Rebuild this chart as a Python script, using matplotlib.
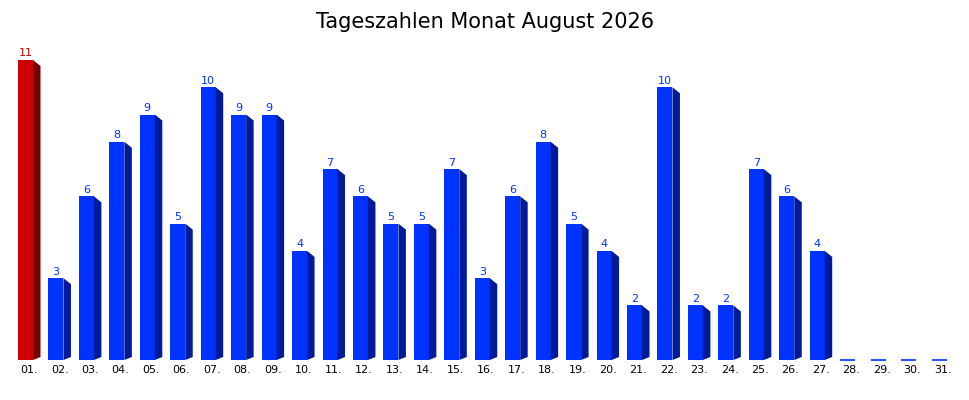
import matplotlib
matplotlib.use("Agg")
import matplotlib.pyplot as plt
from matplotlib.patches import Polygon, Rectangle

days = ["01.", "02.", "03.", "04.", "05.", "06.", "07.", "08.", "09.", "10.",
        "11.", "12.", "13.", "14.", "15.", "16.", "17.", "18.", "19.", "20.",
        "21.", "22.", "23.", "24.", "25.", "26.", "27.", "28.", "29.", "30.", "31."]
values = [11, 3, 6, 8, 9, 5, 10, 9, 9, 4, 7, 6, 5, 5, 7, 3, 6, 8, 5, 4,
          2, 10, 2, 2, 7, 6, 4, 0, 0, 0, 0]
title = "Tageszahlen Monat August 2026"

W, H = 970, 400
fig = plt.figure(figsize=(W / 100, H / 100), dpi=100)
ax = fig.add_axes([0, 0, 1, 1])
ax.set_axis_off()

pitch = 30.45    # px per bar
x0 = 18          # px of first bar left edge
unit = 300 / 11  # px per value unit
y0 = 360         # px of baseline
ax.set_xlim(-x0 / pitch, (W - x0) / pitch)
ax.set_ylim(-(H - y0) / unit, y0 / unit)

fw = 15 / pitch      # front width
sw = 7.5 / pitch     # side width
sd = 6 / unit        # side depth

vmax = max(values)
for i, v in enumerate(values):
    if v == vmax:
        front, side, tc = "#cc0000", "#770000", "#cc0000"
    else:
        front, side, tc = "#0033ff", "#001a99", "#0033ff"
    if v > 0:
        ax.add_patch(Rectangle((i, 0), fw, v, facecolor=front, edgecolor="none"))
        ax.add_patch(Polygon([(i + fw, v), (i + fw + sw, v - sd),
                              (i + fw + sw, 3 / unit), (i + fw, 0)],
                             closed=True, facecolor=side, edgecolor="none"))
        ax.text(i + fw / 2, v + 1.5 / unit, str(v), ha="center", va="bottom",
                fontsize=8, color=tc)
    else:
        ax.plot([i, i + fw], [0, 0], color=front, lw=1.2, solid_capstyle="butt")
    ax.text(i + (fw + sw) / 2, -5 / unit, days[i], ha="center", va="top",
            fontsize=8, color="black")

fig.text(0.5, 1 - 22 / H, title, ha="center", va="center", fontsize=15, color="black")

fig.savefig("out.png", dpi=100)
